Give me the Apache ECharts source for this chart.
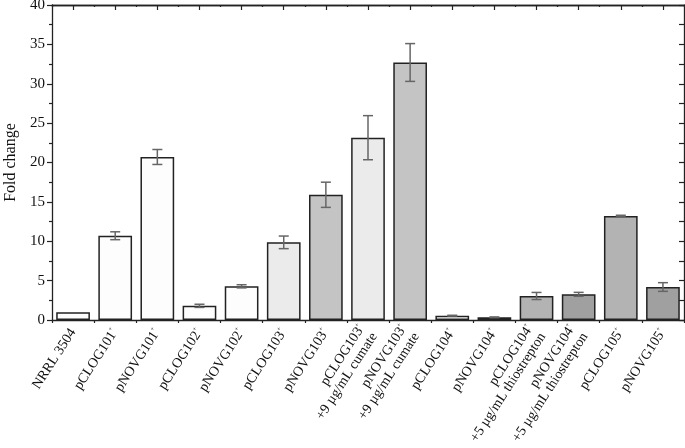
<!DOCTYPE html>
<html><head><meta charset="utf-8">
<script src="https://cdn.jsdelivr.net/npm/echarts@6/dist/echarts.min.js"></script>
<style>html,body{margin:0;padding:0;background:#fff}#c{width:685px;height:448px}</style>
</head><body><div id="c"></div>
<script>
const names = ['NRRL 3504','pCLOG101','pNOVG101','pCLOG102','pNOVG102','pCLOG103','pNOVG103','pCLOG103','pNOVG103','pCLOG104','pNOVG104','pCLOG104','pNOVG104','pCLOG105','pNOVG105'];
const sup = [false,true,true,true,true,true,true,true,true,true,true,true,true,true,true];
const subLines = ['','','','','','','','+9 µg/mL cumate','+9 µg/mL cumate','','','+5 µg/mL thiostrepton','+5 µg/mL thiostrepton','',''];
const values = [1.0,10.7,20.7,1.8,4.28,9.86,15.9,23.15,32.7,0.55,0.34,3.05,3.26,13.2,4.19];
const errors = [0,0.5,0.95,0.2,0.2,0.8,1.6,2.8,2.4,0.05,0.05,0.45,0.25,0.1,0.55];
const colors = ['#fdfdfd','#fdfdfd','#fdfdfd','#fdfdfd','#fdfdfd','#ebebeb','#c4c4c4','#ebebeb','#c4c4c4','#fdfdfd','#9a9a9a','#b3b3b3','#a0a0a0','#b3b3b3','#a0a0a0'];
const yTicks = [0,5,10,15,20,25,30,35,40];

const cats = names.map((n,i)=>String(i));
const font = 'Liberation Serif';
const chart = echarts.init(document.getElementById('c'));
const blankAxis = (pos, align, len, inside)=>({
  type:'category', data:cats, position:pos, gridIndex:0,
  axisLine:{show:pos==='bottom'?false:true, lineStyle:{color:'#222',width:1.3}},
  axisTick:{show:true, alignWithLabel:align, inside:inside, length:len, lineStyle:{color:'#222',width:1.2}},
  axisLabel:{show:false}, splitLine:{show:false}
});
chart.setOption({
  animation:false,
  grid:{left:52,right:1,top:5,bottom:128,containLabel:false,outerBoundsMode:'none'},
  xAxis:[
    {type:'category', data:cats, position:'bottom',
     axisLine:{lineStyle:{color:'#222',width:1.3}},
     axisTick:{alignWithLabel:true,length:6,lineStyle:{color:'#222',width:1.2}},
     axisLabel:{interval:0, rotate:57, margin:10, fontFamily:font, fontSize:14, color:'#111',
       formatter:(v)=>{const i=+v; let s='{n|'+names[i]+'}'+(sup[i]?'{s|+}':''); if(subLines[i]) s+='\n{n|'+subLines[i]+'}'; return s;},
       rich:{n:{fontFamily:font,fontSize:14,color:'#111',lineHeight:15},s:{fontFamily:font,fontSize:6,color:'#111',verticalAlign:'top',lineHeight:15}}},
     splitLine:{show:false}},
    blankAxis('bottom', false, 3, false),
    blankAxis('top', true, 5, true),
    blankAxis('top', false, 2, true)
  ],
  yAxis:[
    {type:'value', min:0, max:40, interval:5, position:'left',
     name:'Fold change', nameLocation:'middle', nameGap:31, nameTextStyle:{fontFamily:font,fontSize:16,color:'#111'},
     axisLine:{show:true,lineStyle:{color:'#222',width:1.3}},
     axisTick:{show:true,length:5,lineStyle:{color:'#222',width:1.2}},
     minorTick:{show:true,splitNumber:2,length:3,lineStyle:{color:'#222',width:1.2}},
     axisLabel:{fontFamily:font,fontSize:15,color:'#111',margin:7,formatter:(v)=>yTicks.includes(v)?String(v):''},
     splitLine:{show:false}},
    {type:'value', min:0, max:40, interval:5, position:'right',
     axisLine:{show:true,lineStyle:{color:'#222',width:1.3}},
     axisTick:{show:true,inside:true,length:5,lineStyle:{color:'#222',width:1.2}},
     minorTick:{show:true,splitNumber:2,length:5,lineStyle:{color:'#222',width:1.2}},
     axisLabel:{show:false}, splitLine:{show:false}}
  ],
  series:[
    {type:'bar', xAxisIndex:0, yAxisIndex:0, barCategoryGap:'20%',
     data:values.map((v,i)=>({value:v,itemStyle:{color:colors[i],borderColor:'#222',borderWidth:1.5}}))},
    {type:'custom', xAxisIndex:0, yAxisIndex:0, z:5,
     data:values.map((v,i)=>[i,v-errors[i],v+errors[i]]),
     renderItem:(params,api)=>{
       const i=api.value(0); if(errors[i]<=0) return null;
       const lo=api.coord([i,api.value(1)]), hi=api.coord([i,api.value(2)]);
       const w=5, st={stroke:'#666',lineWidth:1.5};
       return {type:'group',children:[
         {type:'line',shape:{x1:lo[0],y1:lo[1],x2:hi[0],y2:hi[1]},style:st},
         {type:'line',shape:{x1:lo[0]-w,y1:lo[1],x2:lo[0]+w,y2:lo[1]},style:st},
         {type:'line',shape:{x1:hi[0]-w,y1:hi[1],x2:hi[0]+w,y2:hi[1]},style:st}
       ]};
     }}
  ]
});
</script></body></html>
